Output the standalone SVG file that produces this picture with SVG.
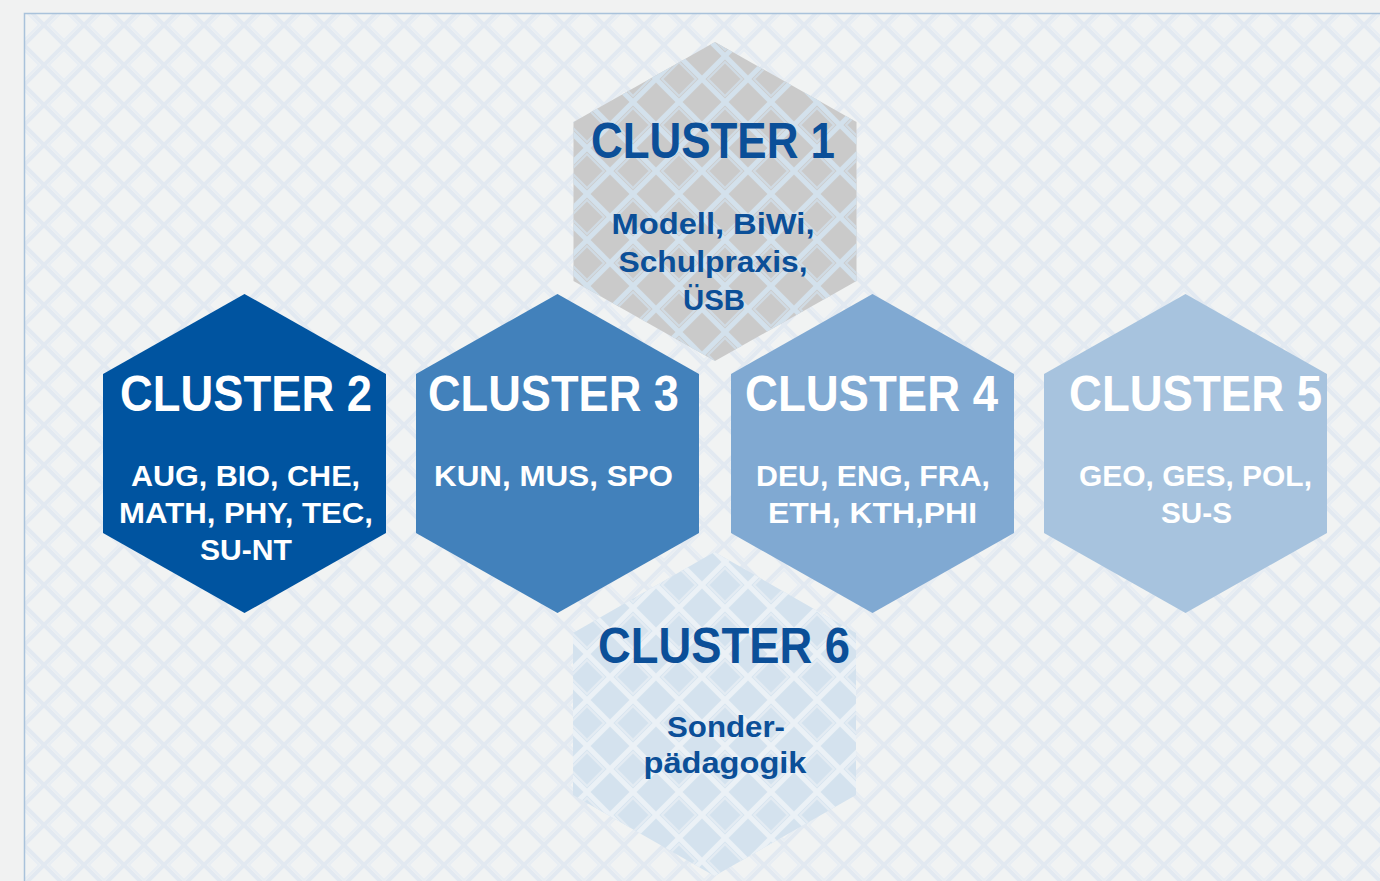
<svg xmlns="http://www.w3.org/2000/svg" width="1380" height="881" viewBox="0 0 1380 881">
<style>
.t{font-family:"Liberation Sans",Arial,sans-serif;font-weight:bold;text-anchor:middle}
.h{font-size:50px}
.s{font-size:30px}
.w{fill:#ffffff}
.b{fill:#0b4f98}
</style>
<defs>
<pattern id="pBg" x="4" y="5" width="40" height="40" patternUnits="userSpaceOnUse">
<path d="M0,20 L20,0 L40,20 L20,40 Z" fill="none" stroke="#e2e9f1" stroke-width="4"/>
<path d="M5,20 L20,5 L35,20 L20,35 Z" fill="none" stroke="#e7edf3" stroke-width="1.8"/>
</pattern>
<pattern id="pGray" x="12" y="10" width="46" height="46" patternUnits="userSpaceOnUse">
<path d="M0,23 L23,0 L46,23 L23,46 Z" fill="none" stroke="#d3e1ec" stroke-width="5"/>
<path d="M6,23 L23,6 L40,23 L23,40 Z" fill="none" stroke="#d0dbe4" stroke-width="2"/>
</pattern>
<pattern id="pBlue" x="12" y="10" width="46" height="46" patternUnits="userSpaceOnUse">
<path d="M0,23 L23,0 L46,23 L23,46 Z" fill="none" stroke="#ebf1f6" stroke-width="5"/>
<path d="M6,23 L23,6 L40,23 L23,40 Z" fill="none" stroke="#e4ecf3" stroke-width="2"/>
</pattern>
</defs>
<rect x="0" y="0" width="1380" height="881" fill="#f1f2f2"/>
<rect x="24" y="13" width="1360" height="872" fill="#f1f3f3"/>
<rect x="24" y="13" width="1360" height="872" fill="url(#pBg)"/>
<path d="M24.5,881 L24.5,13.5 L1380,13.5" fill="none" stroke="#a9c2db" stroke-width="1.5"/>

<g id="cluster1">
<path d="M715,42 L856.5,122 L856.5,281 L715,361 L573.5,281 L573.5,122 Z" fill="#cacaca"/>
<path d="M715,42 L856.5,122 L856.5,281 L715,361 L573.5,281 L573.5,122 Z" fill="url(#pGray)"/>
<text class="t h b" x="713" y="158" textLength="244" lengthAdjust="spacingAndGlyphs">CLUSTER 1</text>
<text class="t s b" x="713" y="234" textLength="203" lengthAdjust="spacingAndGlyphs">Modell, BiWi,</text>
<text class="t s b" x="713" y="272" textLength="189" lengthAdjust="spacingAndGlyphs">Schulpraxis,</text>
<text class="t s b" x="714" y="310" textLength="62" lengthAdjust="spacingAndGlyphs">ÜSB</text>
</g>

<g id="cluster6">
<path d="M714.5,552 L856,633 L856,795 L714.5,876 L573,795 L573,633 Z" fill="#d4e2ee"/>
<path d="M714.5,552 L856,633 L856,795 L714.5,876 L573,795 L573,633 Z" fill="url(#pBlue)"/>
<text class="t h b" x="724" y="663" textLength="252" lengthAdjust="spacingAndGlyphs">CLUSTER 6</text>
<text class="t s b" x="726" y="737" textLength="118" lengthAdjust="spacingAndGlyphs">Sonder-</text>
<text class="t s b" x="725" y="773" textLength="163" lengthAdjust="spacingAndGlyphs">pädagogik</text>
</g>

<g id="cluster2">
<path d="M244.5,294 L386,374 L386,533 L244.5,613 L103,533 L103,374 Z" fill="#0054a0"/>
<text class="t h w" x="246" y="411" textLength="252" lengthAdjust="spacingAndGlyphs">CLUSTER 2</text>
<text class="t s w" x="245.5" y="486" textLength="229" lengthAdjust="spacingAndGlyphs">AUG, BIO, CHE,</text>
<text class="t s w" x="246" y="523" textLength="254" lengthAdjust="spacingAndGlyphs">MATH, PHY, TEC,</text>
<text class="t s w" x="246" y="560" textLength="92" lengthAdjust="spacingAndGlyphs">SU-NT</text>
</g>

<g id="cluster3">
<path d="M557.5,294 L699,374 L699,533 L557.5,613 L416,533 L416,374 Z" fill="#4281bb"/>
<text class="t h w" x="553.5" y="411" textLength="251" lengthAdjust="spacingAndGlyphs">CLUSTER 3</text>
<text class="t s w" x="553.5" y="486" textLength="239" lengthAdjust="spacingAndGlyphs">KUN, MUS, SPO</text>
</g>

<g id="cluster4">
<path d="M872.5,294 L1014,374 L1014,533 L872.5,613 L731,533 L731,374 Z" fill="#80a9d2"/>
<text class="t h w" x="871.5" y="411" textLength="253" lengthAdjust="spacingAndGlyphs">CLUSTER 4</text>
<text class="t s w" x="873" y="486" textLength="234" lengthAdjust="spacingAndGlyphs">DEU, ENG, FRA,</text>
<text class="t s w" x="872.5" y="523" textLength="209" lengthAdjust="spacingAndGlyphs">ETH, KTH,PHI</text>
</g>

<g id="cluster5">
<path d="M1185.5,294 L1327,374 L1327,533 L1185.5,613 L1044,533 L1044,374 Z" fill="#a7c3de"/>
<text class="t h w" x="1195.5" y="411" textLength="253" lengthAdjust="spacingAndGlyphs">CLUSTER 5</text>
<text class="t s w" x="1195.5" y="486" textLength="233" lengthAdjust="spacingAndGlyphs">GEO, GES, POL,</text>
<text class="t s w" x="1196.5" y="523" textLength="71" lengthAdjust="spacingAndGlyphs">SU-S</text>
</g>

<g id="connectors"></g>
</svg>
